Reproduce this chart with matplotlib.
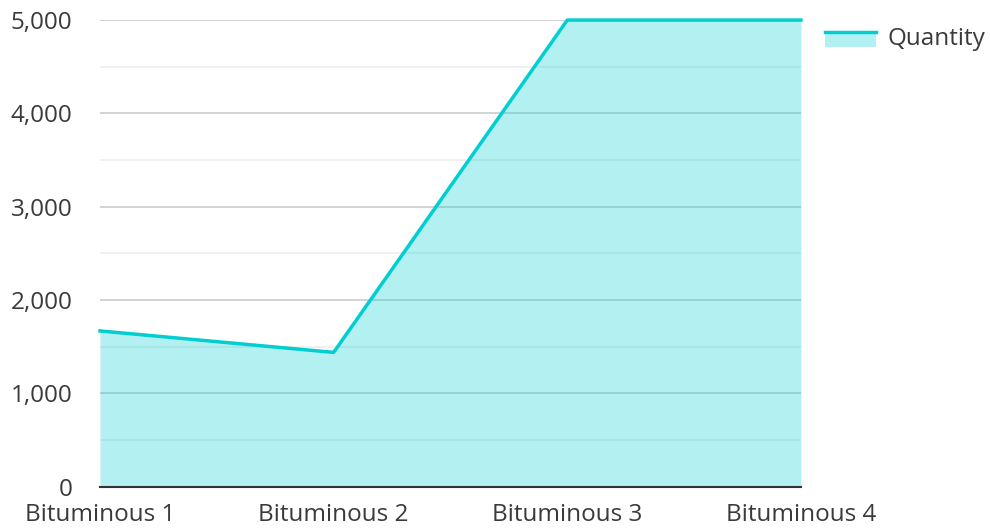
import matplotlib
matplotlib.use("Agg")
from matplotlib import pyplot as plt
from matplotlib.ticker import MultipleLocator, FuncFormatter
from matplotlib.legend_handler import HandlerBase
from matplotlib.patches import Rectangle
from matplotlib.lines import Line2D

categories = ["Bituminous 1", "Bituminous 2", "Bituminous 3", "Bituminous 4"]
quantity = [1670, 1440, 5000, 5000]

lineColor = "#00CED1"
textColor = "#3a3a3a"

plt.rcParams['font.family'] = ['Open Sans', 'DejaVu Sans']


class AreaHandler(HandlerBase):
	"""
	Legend key: line on top of a light filled band.
	"""
	def create_artists(self, legend, orig_handle, xdescent, ydescent, width, height, fontsize, trans):
		top = height * 0.75
		patch = Rectangle((-xdescent, -ydescent - height * 0.1), width, top + height * 0.1,
						  facecolor=lineColor, alpha=0.3, linewidth=0, transform=trans)
		ln = Line2D([-xdescent, -xdescent + width], [top - ydescent, top - ydescent],
					color=lineColor, linewidth=2.5, transform=trans)
		return [patch, ln]


fig = plt.figure(figsize=(9.9, 5.28), dpi=100)
ax = fig.add_axes([0.101, 0.078, 0.708, 0.884])

x = list(range(len(categories)))
area = ax.fill_between(x, 0, quantity, color=lineColor, alpha=0.3, linewidth=0, zorder=2)
line, = ax.plot(x, quantity, color=lineColor, linewidth=2.5, zorder=3, clip_on=False)

ax.set_xlim(0, 3)
ax.set_ylim(0, 5000)
ax.yaxis.set_major_locator(MultipleLocator(1000))
ax.yaxis.set_minor_locator(MultipleLocator(500))
ax.yaxis.set_major_formatter(FuncFormatter(lambda v, p: "{:,.0f}".format(v)))
ax.set_xticks(x)
ax.set_xticklabels(categories)

ax.grid(axis="y", which="major", color="#cccccc", linewidth=1.2, zorder=1)
ax.grid(axis="y", which="minor", color="#eeeeee", linewidth=1.2, zorder=1)
ax.set_axisbelow(True)

for side in ["top", "right", "left"]:
	ax.spines[side].set_visible(False)
ax.spines["bottom"].set_color("#333333")
ax.spines["bottom"].set_linewidth(1.5)
ax.spines["bottom"].set_zorder(4)

ax.tick_params(axis="both", which="both", length=0, labelsize=17.5, colors=textColor)
ax.tick_params(axis="y", pad=20)
ax.tick_params(axis="x", pad=12)

leg = fig.legend([area], ["Quantity"], loc="upper left", bbox_to_anchor=(0.826, 0.963),
				 frameon=False, fontsize=17.5, handlelength=2.1, handletextpad=0.45,
				 labelcolor=textColor, borderaxespad=0, borderpad=0.3,
				 handler_map={type(area): AreaHandler()})

plt.savefig("out.png", dpi=100)
